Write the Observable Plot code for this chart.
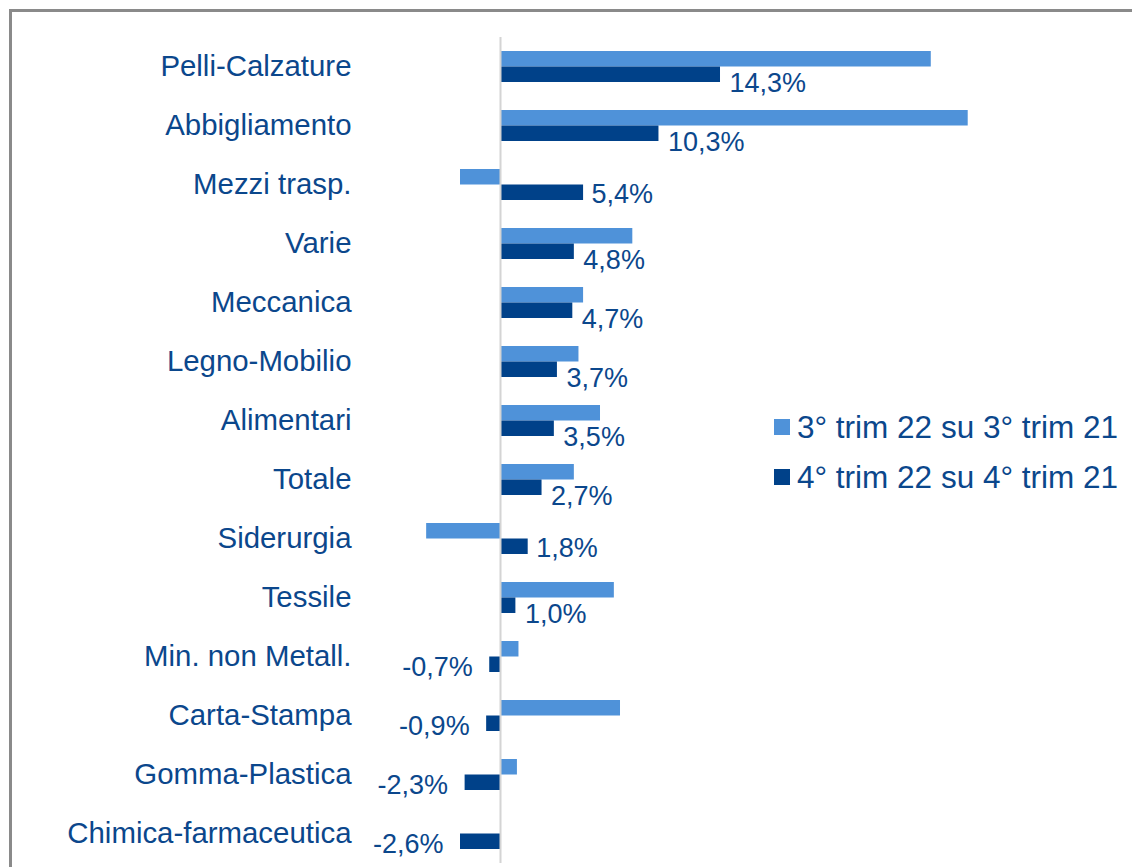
<!DOCTYPE html>
<html>
<head>
<meta charset="utf-8">
<script src="https://cdn.jsdelivr.net/npm/d3@7"></script>
<script src="https://cdn.jsdelivr.net/npm/@observablehq/plot@0.6"></script>
<style>
  html, body { margin: 0; padding: 0; background: #fff; }
  body { width: 1132px; height: 867px; position: relative; overflow: hidden; font-family: "Liberation Sans", Arial, sans-serif; }
  #frame { position: absolute; left: 9px; top: 9px; width: 1200px; height: 1000px; border-top: 3px solid #8a8a8a; border-left: 3px solid #8a8a8a; }
  #chart { position: absolute; left: 0; top: 0; }
  #legend { position: absolute; left: 774px; top: 402px; color: #0b478c; font-size: 31.5px; line-height: 50px; }
  #legend .row { display: flex; align-items: center; white-space: nowrap; }
  #legend .sw { width: 16px; height: 16px; margin-right: 7px; display: inline-block; }
</style>
</head>
<body>
<div id="frame"></div>
<div id="chart"></div>
<div id="legend"></div>
<script>
const categories = ["Pelli-Calzature","Abbigliamento","Mezzi trasp.","Varie","Meccanica","Legno-Mobilio","Alimentari","Totale","Siderurgia","Tessile","Min. non Metall.","Carta-Stampa","Gomma-Plastica","Chimica-farmaceutica"];
const q3values = [28.0, 30.4, -2.6, 8.6, 5.4, 5.1, 6.5, 4.8, -4.8, 7.4, 1.2, 7.8, 1.1, 0];
const q4values = [14.3, 10.3, 5.4, 4.8, 4.7, 3.7, 3.5, 2.7, 1.8, 1.0, -0.7, -0.9, -2.3, -2.6];
const seriesNames = ["3° trim 22 su 3° trim 21", "4° trim 22 su 4° trim 21"];

const lightColor = "#4f92d9";
const darkColor = "#004189";
const textColor = "#0b478c";
const fontFamily = '"Liberation Sans", Arial, sans-serif';

const rows = categories.map((c, i) => ({cat: c, q3: q3values[i], q4: q4values[i]}));
const fmt = v => v.toFixed(1).replace(".", ",") + "%";
const posShift = rows.filter(d => d.q4 >= 0 && d.q3 > d.q4 + 0.6);
const posClear = rows.filter(d => d.q4 >= 0 && !(d.q3 > d.q4 + 0.6));
const negs = rows.filter(d => d.q4 < 0);

const chart = Plot.plot({
  width: 1132,
  height: 867,
  marginTop: 37,
  marginBottom: 4,
  marginLeft: 359,
  marginRight: 0,
  style: {fontFamily, color: textColor, background: "transparent", overflow: "visible"},
  x: {domain: [-10, 30], range: [500 - 153.85, 500 + 461.55], axis: null},
  y: {domain: categories, range: [37, 863], padding: 0, label: null},
  marks: [
    Plot.barX(rows, {x: "q3", y: "cat", fill: lightColor, insetTop: 14, insetBottom: 29.5}),
    Plot.barX(rows, {x: "q4", y: "cat", fill: darkColor, insetTop: 29.5, insetBottom: 14}),
    Plot.ruleX([0], {stroke: "#d4d4d4", strokeWidth: 2}),
    Plot.axisY({tickSize: 0, tickPadding: 8, fontSize: 29.4, fill: textColor, label: null}),
    Plot.text(posShift, {x: "q4", y: "cat", text: d => fmt(d.q4), textAnchor: "start", dx: 9, dy: 16, fontSize: 27, fill: textColor}),
    Plot.text(posClear, {x: "q4", y: "cat", text: d => fmt(d.q4), textAnchor: "start", dx: 8, dy: 9, fontSize: 27, fill: textColor}),
    Plot.text(negs, {x: "q4", y: "cat", text: d => fmt(d.q4), textAnchor: "end", dx: -17, dy: 10, fontSize: 27, fill: textColor})
  ]
});
document.getElementById("chart").appendChild(chart);

const legend = document.getElementById("legend");
[lightColor, darkColor].forEach((col, i) => {
  const row = document.createElement("div");
  row.className = "row";
  const sw = document.createElement("span");
  sw.className = "sw";
  sw.style.background = col;
  const tx = document.createElement("span");
  tx.textContent = seriesNames[i];
  row.appendChild(sw);
  row.appendChild(tx);
  legend.appendChild(row);
});
</script>
</body>
</html>
